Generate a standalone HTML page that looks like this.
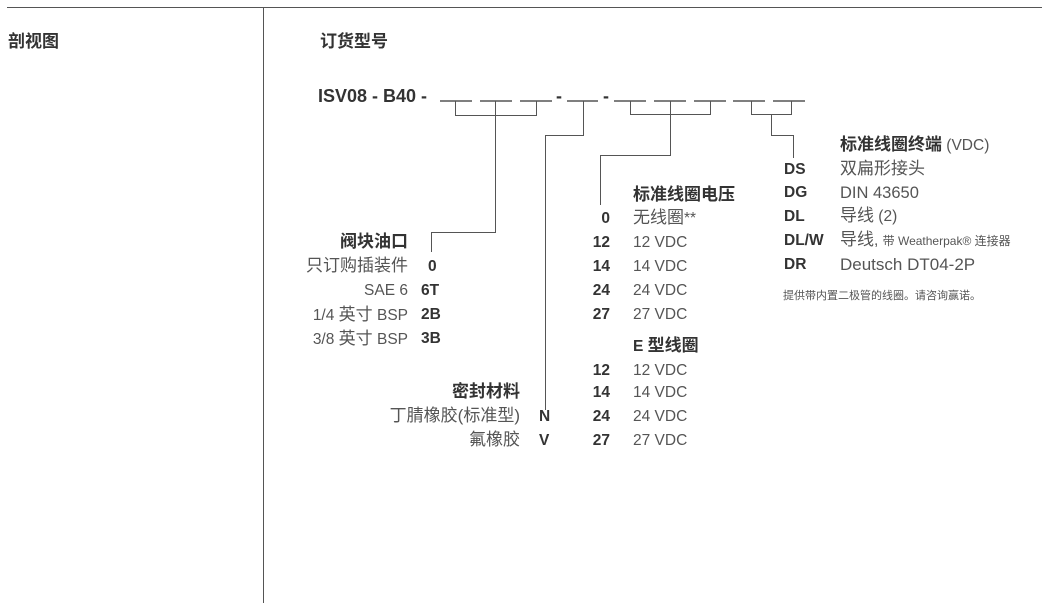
<!DOCTYPE html>
<html><head><meta charset="utf-8"><style>
body{margin:0;width:1042px;height:609px;background:#fff;position:relative;overflow:hidden;font-family:"Liberation Sans","Noto Sans CJK SC",sans-serif;color:#333}
.t{position:absolute;font-size:15.5px;line-height:20px;white-space:nowrap;color:#555}
.c{font-size:17px}
.b{font-weight:bold;color:#333}
.r{text-align:right}
</style></head><body>
<svg width="1042" height="609" style="position:absolute;left:0;top:0" fill="none" stroke="#444" stroke-width="1">
<line x1="7" y1="7.5" x2="1042" y2="7.5" stroke="#555"/>
<line x1="263.5" y1="7" x2="263.5" y2="603" stroke="#555"/>
<g stroke="#333" stroke-width="1.2">
<line x1="440" y1="101" x2="472" y2="101"/><line x1="480" y1="101" x2="512" y2="101"/><line x1="520" y1="101" x2="552" y2="101"/>
<line x1="567" y1="101" x2="598" y2="101"/>
<line x1="614" y1="101" x2="646" y2="101"/><line x1="654" y1="101" x2="686" y2="101"/><line x1="694" y1="101" x2="726" y2="101"/>
<line x1="733" y1="101" x2="765" y2="101"/><line x1="773" y1="101" x2="805" y2="101"/>
</g>
<g stroke="#555">
<polyline points="455.5,101 455.5,115.5 536.5,115.5 536.5,101"/>
<polyline points="495.5,101 495.5,232.5 431.5,232.5 431.5,252"/>
<polyline points="583.5,101 583.5,135.5 545.5,135.5 545.5,410"/>
<polyline points="630.5,101 630.5,114.5 710.5,114.5 710.5,101"/>
<polyline points="670.5,101 670.5,155.5 600.5,155.5 600.5,205"/>
<polyline points="751.5,101 751.5,114.5 791.5,114.5 791.5,101"/>
<polyline points="771.5,114 771.5,135.5 793.5,135.5 793.5,158"/>
</g>
</svg>
<div class="t b c" style="left:8px;top:32px">剖视图</div>
<div class="t b c" style="left:320px;top:32px">订货型号</div>
<div class="t b" style="left:318px;top:86px;font-size:18px">ISV08 - B40 -</div>
<div class="t b" style="left:556px;top:86px;font-size:18px">-</div>
<div class="t b" style="left:603px;top:86px;font-size:18px">-</div>

<div class="t b r c" style="right:634px;top:232px">阀块油口</div>
<div class="t r c" style="right:634px;top:256px">只订购插装件</div>
<div class="t r" style="right:634px;top:281px">SAE 6</div>
<div class="t r" style="right:634px;top:305px">1/4 <span class="c">英寸</span> BSP</div>
<div class="t r" style="right:634px;top:329px">3/8 <span class="c">英寸</span> BSP</div>
<div class="t b" style="left:428px;top:257px">0</div>
<div class="t b" style="left:421px;top:281px">6T</div>
<div class="t b" style="left:421px;top:305px">2B</div>
<div class="t b" style="left:421px;top:329px">3B</div>

<div class="t b r c" style="right:522px;top:382px">密封材料</div>
<div class="t r c" style="right:522px;top:406px">丁腈橡胶(标准型)</div>
<div class="t r c" style="right:522px;top:430px">氟橡胶</div>
<div class="t b" style="left:539px;top:407px">N</div>
<div class="t b" style="left:539px;top:431px">V</div>

<div class="t b c" style="left:633px;top:185px">标准线圈电压</div>
<div class="t b r" style="right:432px;top:209px">0</div><div class="t" style="left:633px;top:208px"><span class="c">无线圈</span>**</div>
<div class="t b r" style="right:432px;top:233px">12</div><div class="t" style="left:633px;top:233px">12 VDC</div>
<div class="t b r" style="right:432px;top:257px">14</div><div class="t" style="left:633px;top:257px">14 VDC</div>
<div class="t b r" style="right:432px;top:281px">24</div><div class="t" style="left:633px;top:281px">24 VDC</div>
<div class="t b r" style="right:432px;top:305px">27</div><div class="t" style="left:633px;top:305px">27 VDC</div>
<div class="t b" style="left:633px;top:336px">E <span class="c">型线圈</span></div>
<div class="t b r" style="right:432px;top:361px">12</div><div class="t" style="left:633px;top:361px">12 VDC</div>
<div class="t b r" style="right:432px;top:383px">14</div><div class="t" style="left:633px;top:383px">14 VDC</div>
<div class="t b r" style="right:432px;top:407px">24</div><div class="t" style="left:633px;top:407px">24 VDC</div>
<div class="t b r" style="right:432px;top:431px">27</div><div class="t" style="left:633px;top:431px">27 VDC</div>

<div class="t" style="left:840px;top:135px"><span class="b c">标准线圈终端</span> (VDC)</div>
<div class="t b" style="left:784px;top:160px">DS</div><div class="t c" style="left:840px;top:159px">双扁形接头</div>
<div class="t b" style="left:784px;top:183px">DG</div><div class="t" style="left:840px;top:183px;font-size:16.5px">DIN 43650</div>
<div class="t b" style="left:784px;top:207px">DL</div><div class="t" style="left:840px;top:206px"><span class="c">导线</span> (2)</div>
<div class="t b" style="left:784px;top:231px">DL/W</div><div class="t" style="left:840px;top:230px"><span class="c">导线</span>, <span style="font-size:12px">带 Weatherpak® 连接器</span></div>
<div class="t b" style="left:784px;top:255px">DR</div><div class="t" style="left:840px;top:255px;font-size:17px">Deutsch DT04-2P</div>
<div class="t" style="left:783px;top:286px;font-size:11px">提供带内置二极管的线圈。请咨询赢诺。</div>
</body></html>
